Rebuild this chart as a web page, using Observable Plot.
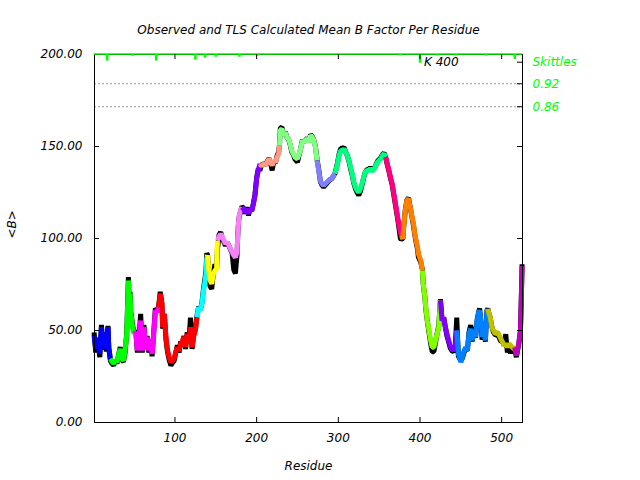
<!DOCTYPE html>
<html><head><meta charset="utf-8">
<script src="https://cdn.jsdelivr.net/npm/d3@7"></script>
<script src="https://cdn.jsdelivr.net/npm/@observablehq/plot@0.6"></script>
<style>body{margin:0;background:#fff}</style>
</head><body><div id="chart"></div>
<script>
// Residue numbers (sampled), observed mean B and TLS-calculated mean B
const residue = [
  1,3,5,8,10,12,14,16,18,19,
  21,23,25,27,29,31,33,35,37,39,41,43,44,45,46,47,48,
  50,52,54,56,58,60,62,64,66,68,70,72,74,76,78,
  80,82,84,85,87,89,91,93,95,97,99,101,103,105,107,109,111,113,115,117,119,121,123,125,
  127,129,131,133,135,137,138,
  139,140,141,143,145,147,149,151,
  152,154,156,158,160,162,164,166,168,170,172,174,176,177,178,179,
  182,184,186,188,190,192,194,196,198,200,202,
  204,206,209,211,213,215,217,219,221,223,225,227,
  228,229,231,233,235,237,239,241,243,245,247,250,252,254,256,258,260,262,264,266,268,270,272,
  274,276,278,280,282,284,286,288,290,292,294,
  296,299,301,303,305,307,309,311,313,315,317,319,321,323,325,327,329,331,333,335,337,339,341,343,345,348,350,352,354,356,
  358,360,362,364,366,368,370,372,374,376,
  377,379,380,382,384,386,388,390,392,394,397,398,401,
  403,404,406,407,409,411,413,415,417,419,421,423,
  425,427,429,431,433,435,437,439,441,443,
  445,446,447,450,452,454,456,458,460,462,464,466,468,470,472,473,475,476,478,480,482,
  483,484,486,488,490,492,495,497,499,501,503,505,507,509,511,513,515,
  516,518,521,523,524,525
];
const tlsB = [
  47.3,40.0,45.5,37.3,51.8,40.9,48.2,40.0,51.8,40.9,
  34.6,33,31.9,34,32.8,37,40,34.6,33.7,39.1,48.2,77.2,64.5,70,59,56,51.8,
  48.2,49.1,39.1,46.4,55.4,39.1,51.8,40.9,46.4,39.1,44.6,37.3,48.2,60.9,60,
  62.7,70,64.5,51.8,59,46.4,39.1,35.5,32.8,33.7,34.6,38.2,40.9,39.1,42.8,43.7,46.4,41,48.2,44,51.8,40.9,47,50,
  57.2,62.7,61,64.5,71.7,77.2,80.8,
  89.8,90.8,84.4,77.2,75.4,80.8,82.6,83.5,
  98.9,101,102.5,100.7,98.9,97.1,98,96.2,94.4,92.6,90.8,89.8,92.6,102.5,109.8,113.4,
  117,116.1,114.3,116.1,113.4,116.1,115.2,118.8,123.4,132.4,137,
  140.6,139.5,140.6,140,141.5,143.3,141.5,139.7,142.4,141.5,144.2,146,
  150.5,158.7,159.6,156,157.8,155,154.2,151.5,147.8,146,144.2,143.3,146,148.7,153.3,152.4,153.3,154.2,152.4,156,155.1,153.3,149.6,
  142.4,137,131.5,129.7,128.8,129.7,130.6,131.5,132.4,132.4,134.2,
  135.2,140.6,145.1,147.8,147.8,148.7,146.9,145.1,142.4,138.8,135.2,130.6,127.9,126.1,125.2,127,129.7,133.3,136,137,137,137.9,137,137,138.8,141.5,142.4,143.3,145.1,146,
  144.2,140.5,137,133,129.7,124.3,118.8,113.4,108,103.4,
  101.6,99.8,106.1,115.2,120.7,121.6,117,112.5,108,101.6,95.3,91.7,88,
  82.6,75.4,68.1,62.7,55.4,50,44.6,40.9,40.9,44.6,48.2,51.8,
  66.3,55.4,57.2,51.8,48.2,44.6,41.8,40,39.1,40.9,
  50,45,37.3,32.8,35.5,39.1,40.9,39.1,48.2,50.9,44.6,50,46.4,55.4,60,60.9,53.6,46.4,50,44.6,60,
  61.8,60,57.2,51.8,50,48.2,49.1,47.3,45.5,43.7,41.8,42.8,40.9,42.8,41.8,40.9,40,
  40.9,36.4,42.8,50,66.3,85
];
const observedB = [
  49,38,46,35.5,53,39.5,49,38.5,52.5,40,
  33.5,32,31,34,32,37,41,34,33,38,49,79,66,71,60,57,53,
  49,50,38,46,59,38,53,40,47,38,45,36,49,62,61,
  63,71,65,51,59,45,38,34,31,32.5,33.5,38,42,38,44,43,47,40,49,44,57,40,48,51,
  58,63,61,65,73,79,83,
  92,91,82,74,72.5,81,86,84,
  94,102,103.5,100,98,96,98,96,94,92,83,81,91,103,110,112.5,
  117.5,116.5,113.5,117,112.5,116.5,115,119,124,133,138,
  137,140,140.6,140,142,143.5,141,137,142,141,145,147,
  151,160,160.5,156,158,155,154,151,147,145.5,143,141.5,145.5,149,153.5,152.5,153.5,154.5,152.5,156.5,155.5,153.5,150,
  143,137.5,131,129,128,129,130,131,132,132.5,134,
  135.5,141,146,149,149,149.5,147,145,142,138,134.5,130,127,125,123.5,125.5,129,133,136,137.5,137.5,138.5,137.5,137.5,139,142,143,144,145.5,146.5,
  144,140,136.5,132.5,129,123.5,118,112.5,106.5,100,
  99.5,100,106,115.5,121,122,117,112,107,101,94,90,87,
  83,75,68,62,55,49,43,38.5,38.5,43.5,48.5,52.5,
  67,56,57,52,47,44,40.5,39,38.5,40,
  57,46,36,33.7,35,38,40,39,49,53,44,52,46,56,60.5,62,53,45,50,44,61,
  62,60,57,52,49,47.5,48,46,44,44,42,48,38,42,37.5,41,39.5,
  40,35.5,43,50,67,86
];
// TLS groups: first residue of each group and its colour
const groupStart = [1,21,50,80,127,139,152,182,204,228,274,296,358,377,403,425,445,483,516];
const groupColor = ["#0000ff","#00ff00","#ff00ff","#ff0000","#00ffff","#ffff00","#f77ff7","#8000ff","#ff9980",
  "#80ff80","#8080ff","#00ff80","#ff0080","#ff8000","#80ff00","#8000ff","#0080ff","#c0c000","#c000c0"];
// Skittles marks along the top (residue, height in B units)
const skResidue = [17,48,77,125,137,150,179,201,376,400,421,444,481,516];
const skHeight = [3.6,1,3.6,3.1,2.0,1.5,1.5,1.0,0.8,4.7,0.9,0.9,0.9,2.7];
const skLabels = ["Skittles","0.92","0.86"];
const skLevels = [195.8,184.1,171.6];
const xTicks = [100,200,300,400,500];
const yTicks = [0,50,100,150,200];

const pts = residue.map((r,i)=>({r, obs: observedB[i], tls: tlsB[i], g: d3.bisectRight(groupStart, r) - 1}));
const segs = [];
pts.forEach((p,i)=>{
  segs.push({...p, seg: p.g});
  const n = pts[i+1];
  if (n && n.g !== p.g) segs.push({...n, seg: p.g});
});
const sk = skResidue.map((r,i)=>({r, h: skHeight[i]}));
const levels = skLabels.map((l,i)=>({label: l, b: skLevels[i]}));
const green = "#00ff00";

const chart = Plot.plot({
  width: 640, height: 480,
  marginLeft: 94, marginRight: 118, marginTop: 54, marginBottom: 58,
  style: {fontFamily: "DejaVu Sans", fontSize: "12px", fontStyle: "italic", background: "#fff"},
  x: {domain: [1.5, 525.5]},
  y: {domain: [0, 200]},
  marks: [
    Plot.ruleY(levels.slice(1), {y: "b", stroke: "#999", strokeDasharray: "2,2", strokeWidth: 1}),
    Plot.line(pts, {x: "r", y: "obs", stroke: "black", strokeWidth: 5, strokeLinejoin: "miter", strokeLinecap: "butt"}),
    Plot.line(segs, {x: "r", y: "tls", z: "seg", stroke: d => groupColor[d.seg], strokeWidth: 5, strokeLinejoin: "miter", strokeLinecap: "butt"}),
    Plot.frame({stroke: "black"}),
    Plot.ruleY([200], {stroke: green, strokeWidth: 1.5, dy: -0.5}),
    Plot.ruleX(sk, {x: "r", y1: 200, y2: d => 200 - d.h, stroke: green, strokeWidth: 2.5}),
    Plot.tickY(yTicks.slice(1,4), {y: d => d, insetRight: 423, stroke: "black"}),
    Plot.tickY([...yTicks.slice(1,4), ...skLevels], {y: d => d, insetLeft: 423, stroke: "black"}),
    Plot.tickX(xTicks, {x: d => d, insetTop: 363, stroke: "black"}),
    Plot.tickX(xTicks, {x: d => d, insetBottom: 363, stroke: "black"}),
    Plot.axisY({ticks: yTicks, tickSize: 0, tickPadding: 12, tickFormat: d => d.toFixed(2), label: null}),
    Plot.axisX({ticks: xTicks, tickSize: 0, tickPadding: 11, tickFormat: d => String(d), label: null}),
    Plot.text(levels, {y: "b", text: "label", frameAnchor: "right", dx: 10, textAnchor: "start", fill: green}),
    Plot.text(["K 400"], {x: 400, y: 195.8, text: d => d, textAnchor: "start", dx: 4, fill: "black"}),
    Plot.text(["Observed and TLS Calculated Mean B Factor Per Residue"], {frameAnchor: "top", dy: -29, text: d => d}),
    Plot.text(["Residue"], {frameAnchor: "bottom", dy: 47, text: d => d}),
    Plot.text(["<B>"], {frameAnchor: "left", dx: -82, rotate: -90, text: d => d})
  ]
});
document.getElementById("chart").append(chart);
</script>
</body></html>
